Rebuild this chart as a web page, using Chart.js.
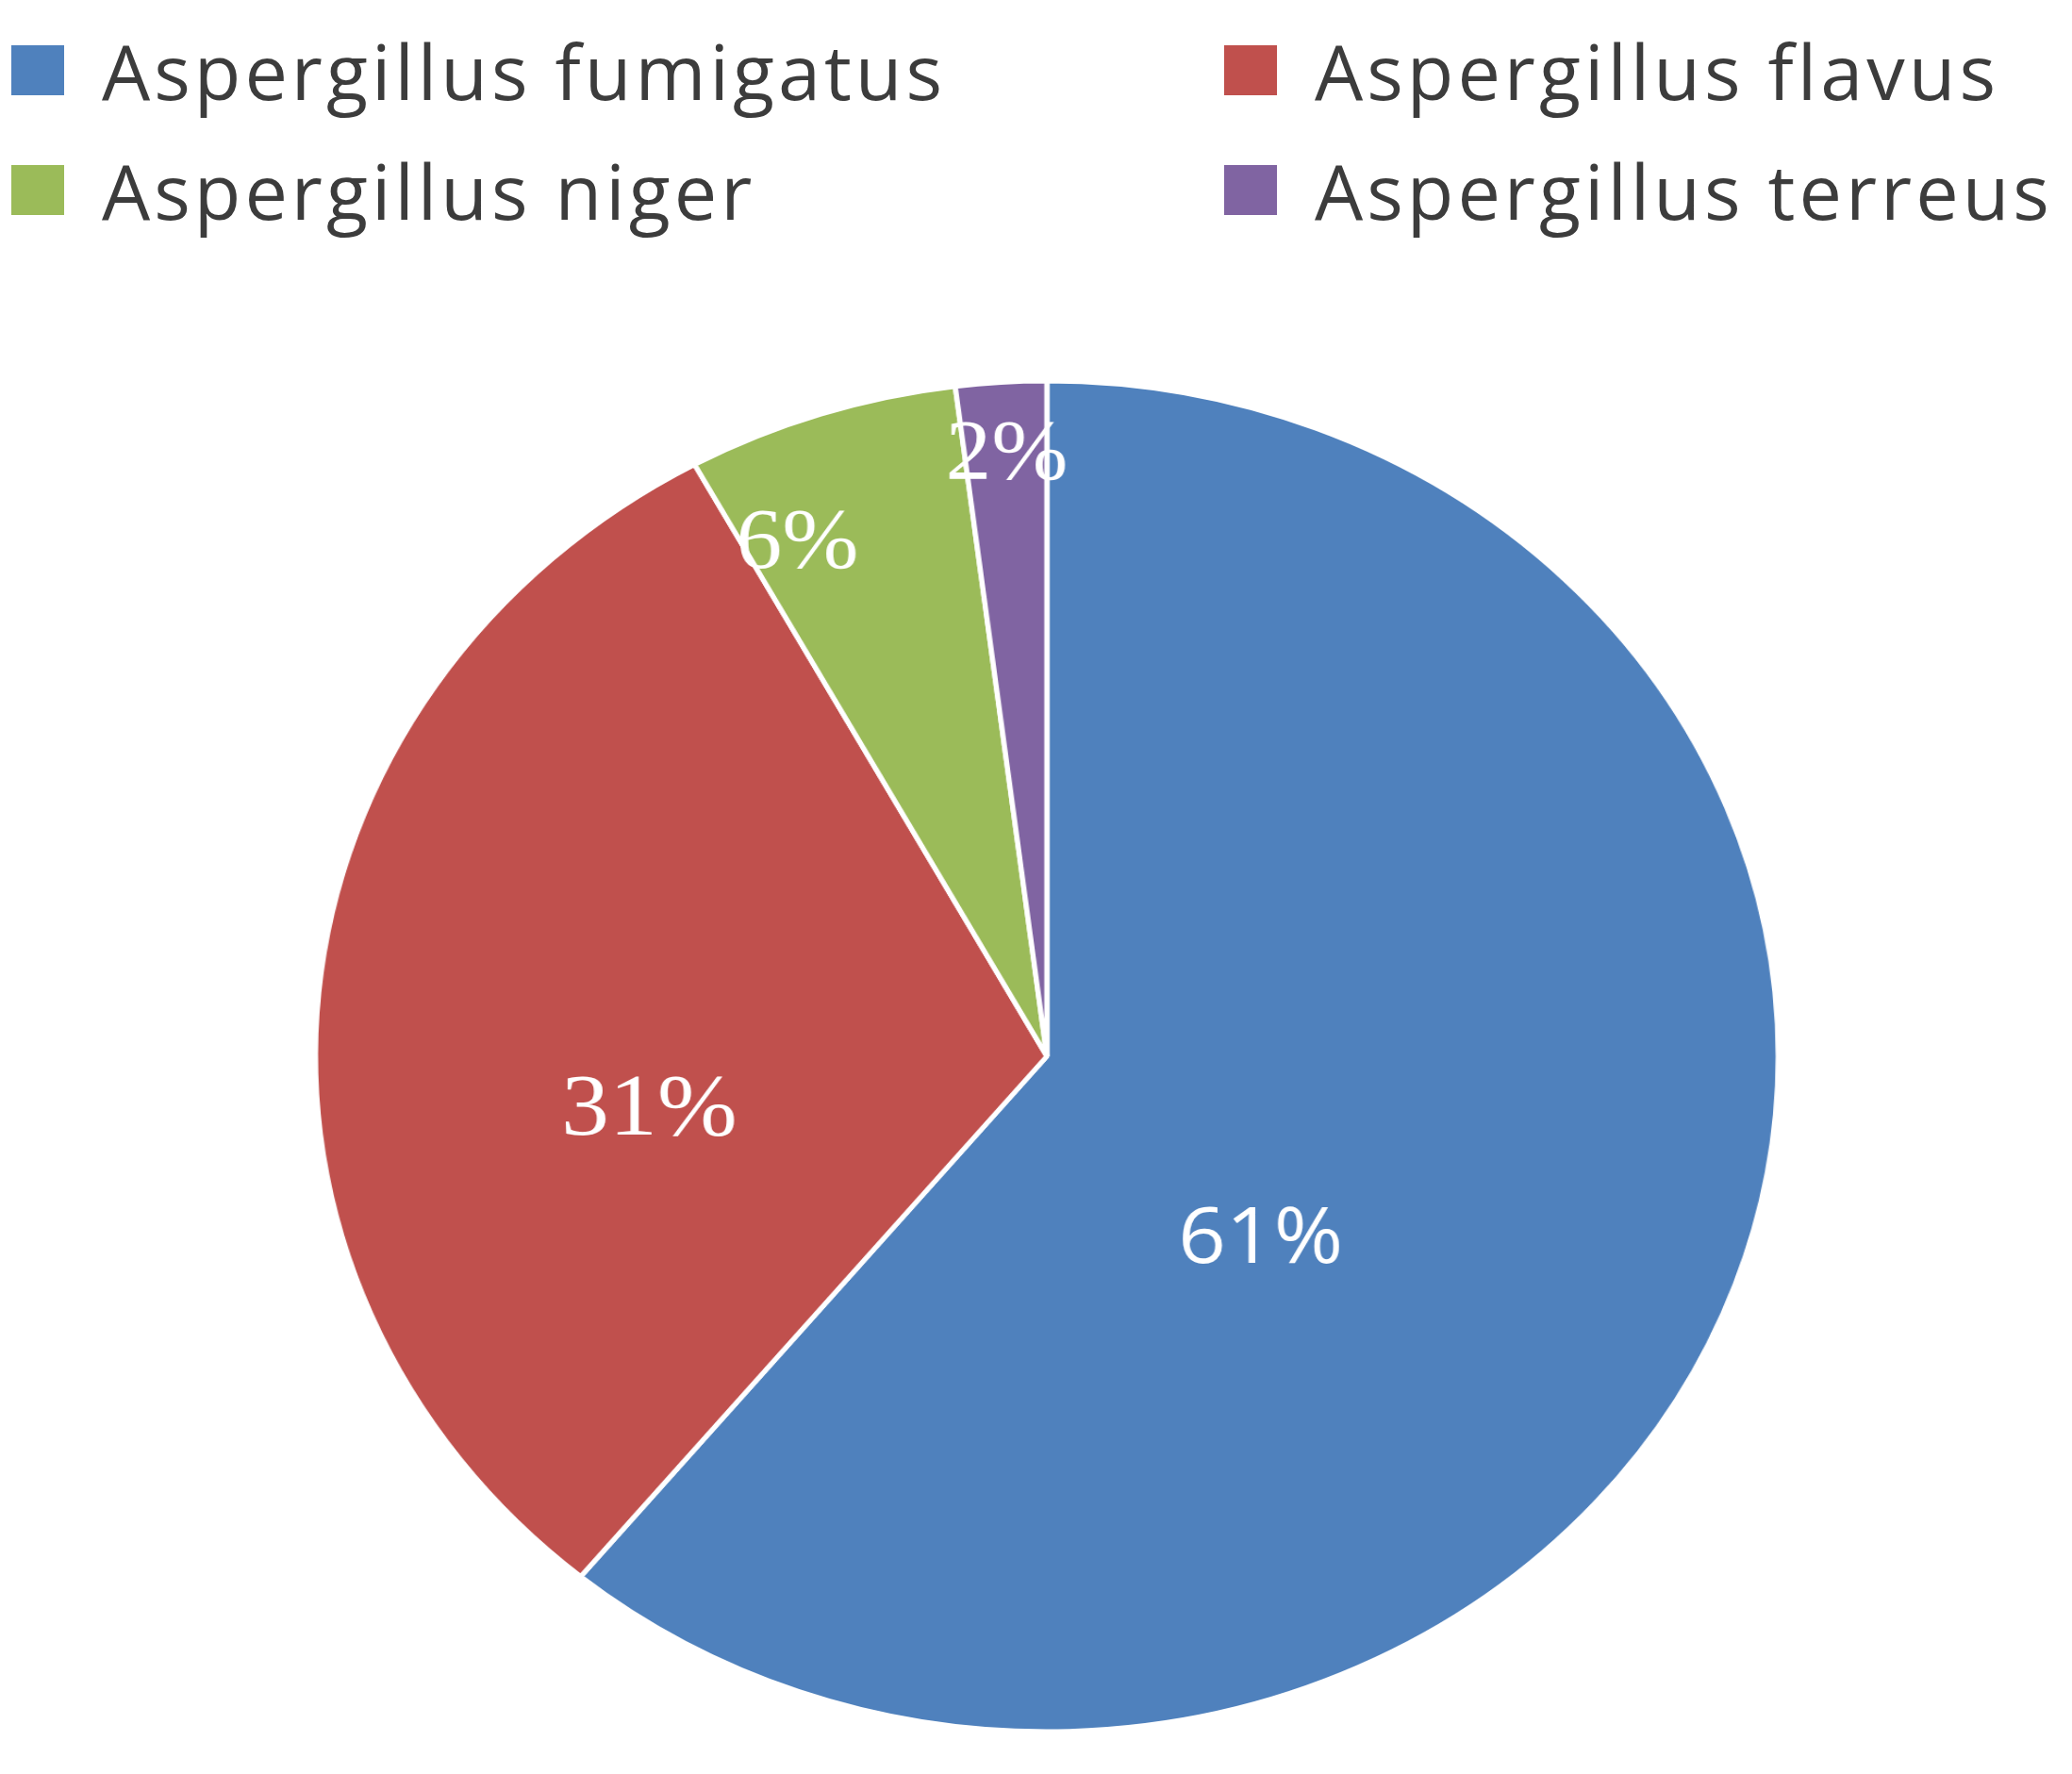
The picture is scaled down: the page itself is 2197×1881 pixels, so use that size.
<!DOCTYPE html>
<html>
<head>
<meta charset="utf-8">
<script src="https://cdn.jsdelivr.net/npm/chart.js@4/dist/chart.umd.min.js"></script>
<style>
    html, body {
        margin: 0;
        padding: 0;
        background: #ffffff;
    }
    body {
        width: 2197px;
        height: 1881px;
        position: relative;
        overflow: hidden;
    }
    #legend {
        position: absolute;
        left: 12px;
        top: 48px;
        display: grid;
        grid-template-columns: 1286px auto;
        grid-auto-rows: 127px;
    }
    .legend-item {
        display: flex;
        align-items: center;
        height: 53px;
    }
    .legend-box {
        width: 56px;
        height: 53px;
        margin-right: 40px;
        flex: none;
    }
    .legend-text {
        font-family: "Open Sans", sans-serif;
        font-size: 81px;
        letter-spacing: 4px;
        color: #3c3c3c;
        white-space: nowrap;
        line-height: 1;
    }
    #pieWrap {
        position: absolute;
        left: 360px;
        top: 370px;
        width: 1500px;
        height: 1500px;
        transform: scaleX(1.083);
        transform-origin: 50% 50%;
    }
</style>
</head>
<body>
<div id="legend"></div>
<div id="pieWrap"><canvas id="pieChart" width="1500" height="1500"></canvas></div>

<script>
const species = ['Aspergillus fumigatus', 'Aspergillus flavus', 'Aspergillus niger', 'Aspergillus terreus'];
const shares = [61, 31, 6, 2];
const sliceColors = ['#4F81BD', '#C0504D', '#9BBB59', '#8064A2'];

// where each percentage sits inside its slice (fraction of the angle, fraction of the radius)
const labelPlacement = [
    { angle: 0.606, radius: 0.40, font: '82px "Open Sans", sans-serif' },
    { angle: 0.375, radius: 0.55, font: '94px "Liberation Serif", serif' },
    { angle: 0.21, radius: 0.83, font: '90px "Liberation Serif", serif' },
    { angle: 0.51, radius: 0.89, font: '90px "Liberation Serif", serif' }
];

function buildLegend() {
    const legend = document.getElementById('legend');
    species.forEach((name, i) => {
        const item = document.createElement('div');
        item.className = 'legend-item';
        item.innerHTML = `<span class="legend-box" style="background:${sliceColors[i]}"></span>` +
            `<span class="legend-text">${name}</span>`;
        legend.appendChild(item);
    });
}

const sliceLabels = {
    id: 'sliceLabels',
    afterDatasetsDraw(chart) {
        const ctx = chart.ctx;
        const meta = chart.getDatasetMeta(0);
        const total = shares.reduce((a, b) => a + b, 0);
        ctx.save();
        ctx.fillStyle = '#ffffff';
        ctx.textAlign = 'center';
        ctx.textBaseline = 'middle';
        meta.data.forEach((arc, i) => {
            const p = arc.getProps(['x', 'y', 'startAngle', 'endAngle', 'outerRadius'], true);
            const place = labelPlacement[i];
            const a = p.startAngle + (p.endAngle - p.startAngle) * place.angle;
            const r = p.outerRadius * place.radius;
            ctx.font = place.font;
            ctx.fillText(Math.round(shares[i] / total * 100) + '%', p.x + Math.cos(a) * r, p.y + Math.sin(a) * r);
        });
        ctx.restore();
    }
};

buildLegend();

new Chart(document.getElementById('pieChart').getContext('2d'), {
    type: 'pie',
    data: {
        labels: species,
        datasets: [{
            data: shares,
            backgroundColor: sliceColors,
            borderColor: '#ffffff',
            borderWidth: 5
        }]
    },
    options: {
        responsive: false,
        animation: false,
        radius: 716,
        layout: { padding: 0 },
        plugins: {
            legend: { display: false },
            tooltip: { enabled: false }
        }
    },
    plugins: [sliceLabels]
});
</script>
</body>
</html>
